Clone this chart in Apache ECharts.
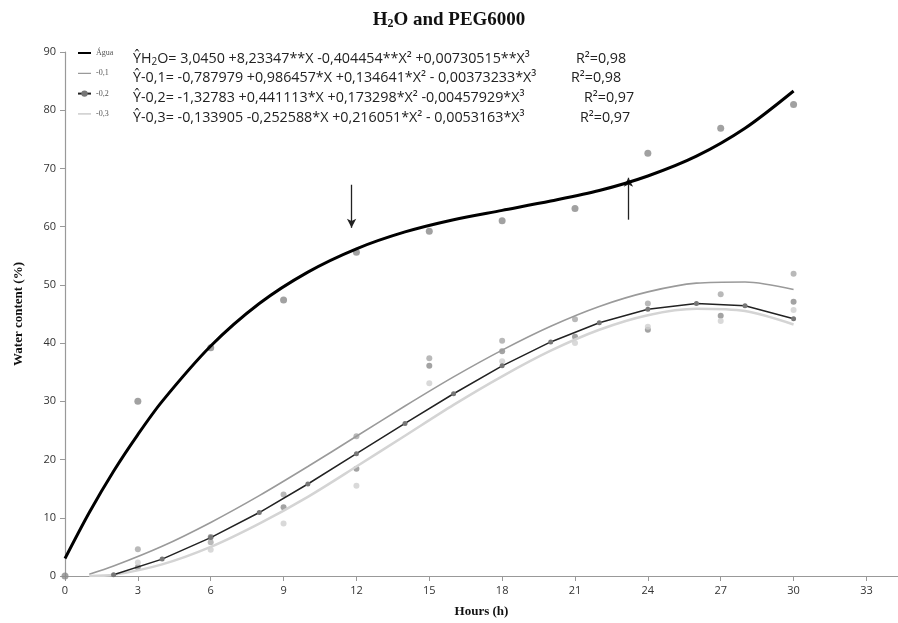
<!DOCTYPE html>
<html>
<head>
<meta charset="utf-8">
<script src="https://cdn.jsdelivr.net/npm/echarts@6/dist/echarts.min.js"></script>
<style>
html,body{margin:0;padding:0;background:#fff;}
#chart{width:898px;height:623px;}
</style>
</head>
<body>
<div id="chart"></div>
<script>
// ---- data ----
const seriesNames = ['Água', '-0,1', '-0,2', '-0,3'];
const xTicks = [0, 3, 6, 9, 12, 15, 18, 21, 24, 27, 30, 33];
const yTicks = [0, 10, 20, 30, 40, 50, 60, 70, 80, 90];

// observed points
const obsHoursH2O = [0, 3, 6, 9, 12, 15, 18, 21, 24, 27, 30];
const obsH2O = [0, 30, 39.2, 47.4, 55.6, 59.2, 61, 63.1, 72.6, 76.9, 81];
const obsHours = [3, 6, 9, 12, 15, 18, 21, 24, 27, 30];
const obsM01 = [4.6, 5.8, 14.0, 24.0, 37.4, 40.4, 44.1, 46.8, 48.4, 51.9];
const obsM02 = [1.5, 6.7, 11.8, 18.4, 36.1, 38.6, 41.1, 42.3, 44.7, 47.1];
const obsM03 = [2.3, 4.5, 9.0, 15.5, 33.1, 36.9, 40.0, 42.8, 43.8, 45.7];

// fitted curves
const fitHoursH2O = [0, 1, 2, 3, 4, 6, 8, 10, 12, 14, 16, 18, 20, 22, 24, 26, 28, 30];
const fitH2O = [3.0, 10.9, 18.0, 24.3, 30.0, 39.5, 46.8, 52.2, 56.2, 59.1, 61.2, 62.8, 64.4, 66.2, 68.7, 72.1, 76.9, 83.3];
const fitHoursM01 = [1, 2, 4, 6, 8, 10, 12, 14, 16, 18, 20, 22, 24, 26, 28, 30];
const fitM01 = [0.3, 1.7, 5.1, 9.2, 13.8, 18.8, 24.0, 29.2, 34.2, 38.8, 42.9, 46.3, 48.8, 50.3, 50.5, 49.2];
const fitHoursM02 = [2, 4, 6, 8, 10, 12, 14, 16, 18, 20, 22, 24, 26, 28, 30];
const fitM02 = [0.2, 2.9, 6.6, 10.9, 15.8, 21.0, 26.2, 31.3, 36.1, 40.2, 43.5, 45.8, 46.8, 46.4, 44.2];
const fitHoursM03 = [1, 2, 4, 6, 8, 10, 12, 14, 16, 18, 20, 22, 24, 26, 28, 30];
const fitM03 = [0, 0.2, 2.0, 5.0, 9.0, 13.6, 18.8, 24.1, 29.4, 34.3, 38.7, 42.3, 44.8, 45.9, 45.5, 43.2];

// arrows: [x, yStart, yEnd]
const arrows = [[11.8, 67.2, 59.8], [23.2, 61.2, 68.4]];

// equations
const equations = [
  {rich: '{a|ŶH}{s|2}{a|O= 3,0450 +8,23347**X -0,404454**X² +0,00730515**X³}', r2: 'R²=0,98'},
  {rich: '{a|Ŷ-0,1= -0,787979 +0,986457*X +0,134641*X² - 0,00373233*X³}', r2: 'R²=0,98'},
  {rich: '{a|Ŷ-0,2= -1,32783 +0,441113*X +0,173298*X² -0,00457929*X³}', r2: 'R²=0,97'},
  {rich: '{a|Ŷ-0,3= -0,133905 -0,252588*X +0,216051*X² - 0,0053163*X³}', r2: 'R²=0,97'}
];

const zip = (xs, ys) => xs.map((x, i) => [x, ys[i]]);

const chart = echarts.init(document.getElementById('chart'), null, {renderer: 'canvas'});

const eqFont = '"Open Sans", sans-serif';
const eqSize = 14.3;
const graphics = [];
const eqTops = [61, 80, 100, 120];
const r2Left = [576, 571, 584, 580];
equations.forEach((e, i) => {
  graphics.push({
    type: 'text', left: 133, top: eqTops[i] - 9,
    style: {
      text: e.rich,
      rich: {
        a: {fontFamily: eqFont, fontSize: eqSize, fill: '#222'},
        s: {fontFamily: eqFont, fontSize: 10, fill: '#222', verticalAlign: 'bottom', padding: [6, 0, 0, 0]}
      }
    }
  });
  graphics.push({
    type: 'text', left: r2Left[i], top: eqTops[i] - 9,
    style: {text: e.r2, fontFamily: eqFont, fontSize: eqSize, fill: '#222'}
  });
});

// legend line icons (plain line, no marker); bounding dots keep the full icon box
const lineIcon = (h) => 'path://M0,' + (4 - h / 2) + ' L13,' + (4 - h / 2) + ' L13,' + (4 + h / 2) + ' L0,' + (4 + h / 2) +
  ' Z M0,0 L0.01,0 L0.01,0.01 Z M12.99,8 L13,8 L13,7.99 Z';

const option = {
  backgroundColor: '#fff',
  animation: false,
  title: {
    text: '{t|H}{s|2}{t|O and PEG6000}',
    left: 'center', top: 5,
    textStyle: {
      rich: {
        t: {fontFamily: '"Liberation Serif", serif', fontWeight: 'bold', fontSize: 19, color: '#111'},
        s: {fontFamily: '"Liberation Serif", serif', fontWeight: 'bold', fontSize: 12, color: '#111', padding: [8, 0, 0, 0]}
      }
    }
  },
  legend: {
    orient: 'vertical', left: 72, top: 44,
    data: [
      {name: 'Água', icon: lineIcon(2.2)},
      {name: '-0,1', icon: lineIcon(1.2)},
      {name: '-0,2'},
      {name: '-0,3', icon: lineIcon(1.6)}
    ],
    itemWidth: 13, itemHeight: 8, itemGap: 12.3,
    textStyle: {fontFamily: '"Liberation Serif", serif', fontSize: 8, color: '#555', padding: [0, 0, 6, 0]},
    selectedMode: false
  },
  grid: {left: 65, right: 0, top: 52, bottom: 47},
  xAxis: {
    type: 'value', min: 0, max: 34.3, interval: 3,
    name: 'Hours (h)', nameLocation: 'middle', nameGap: 29,
    nameTextStyle: {fontFamily: '"Liberation Serif", serif', fontWeight: 'bold', fontSize: 13, color: '#111'},
    axisLine: {lineStyle: {color: '#999', width: 1.2}},
    axisTick: {length: 5, lineStyle: {color: '#999'}},
    axisLabel: {
      fontFamily: '"Open Sans", sans-serif', fontSize: 11, color: '#333', margin: 9,
      showMaxLabel: false,
      formatter: (v) => xTicks.includes(v) ? String(v) : ''
    },
    splitLine: {show: false}
  },
  yAxis: {
    type: 'value', min: 0, max: 90, interval: 10,
    name: 'Water content (%)', nameLocation: 'middle', nameGap: 40,
    nameTextStyle: {fontFamily: '"Liberation Serif", serif', fontWeight: 'bold', fontSize: 13, color: '#111'},
    axisLine: {show: true, lineStyle: {color: '#999', width: 1.2}},
    axisTick: {show: true, length: 5, lineStyle: {color: '#999'}},
    axisLabel: {
      fontFamily: '"Open Sans", sans-serif', fontSize: 11, color: '#333', margin: 9,
      formatter: (v) => yTicks.includes(v) ? String(v) : ''
    },
    splitLine: {show: false}
  },
  graphic: graphics,
  series: [
    {name: 'obsH2O', type: 'scatter', data: zip(obsHoursH2O, obsH2O), symbolSize: 7, itemStyle: {color: '#8a8a8a'}, z: 3},
    {name: 'obs01', type: 'scatter', data: zip(obsHours, obsM01), symbolSize: 6, itemStyle: {color: '#a8a8a8'}, z: 3},
    {name: 'obs02', type: 'scatter', data: zip(obsHours, obsM02), symbolSize: 6, itemStyle: {color: '#8c8c8c'}, z: 3},
    {name: 'obs03', type: 'scatter', data: zip(obsHours, obsM03), symbolSize: 6, itemStyle: {color: '#cfcfcf'}, z: 3},
    {
      name: 'Água', type: 'line', data: zip(fitHoursH2O, fitH2O), smooth: 0.3, showSymbol: false, symbol: 'none',
      lineStyle: {color: '#000', width: 3}, itemStyle: {color: '#000'}, z: 5,
      markLine: {
        silent: true, symbol: ['none', 'arrow'], symbolSize: [7, 9],
        label: {show: false},
        lineStyle: {color: '#222', width: 1.3, type: 'solid'},
        data: arrows.map(a => [{coord: [a[0], a[1]]}, {coord: [a[0], a[2]]}])
      }
    },
    {
      name: '-0,1', type: 'line', data: zip(fitHoursM01, fitM01), smooth: 0.3, showSymbol: false, symbol: 'none',
      lineStyle: {color: '#9a9a9a', width: 1.6}, itemStyle: {color: '#9a9a9a'}, z: 4
    },
    {
      name: '-0,2', type: 'line', data: zip(fitHoursM02, fitM02), smooth: false, symbol: 'circle', symbolSize: 5,
      lineStyle: {color: '#222', width: 1.5}, itemStyle: {color: '#777'}, z: 5
    },
    {
      name: '-0,3', type: 'line', data: zip(fitHoursM03, fitM03), smooth: 0.3, showSymbol: false, symbol: 'none',
      lineStyle: {color: '#d4d4d4', width: 2.5}, itemStyle: {color: '#d4d4d4'}, z: 4
    }
  ]
};
chart.setOption(option);
</script>
</body>
</html>
